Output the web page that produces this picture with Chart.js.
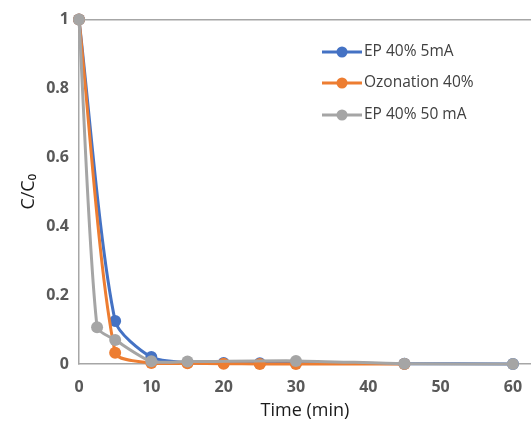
<!DOCTYPE html>
<html>
<head>
<meta charset="utf-8">
<script src="https://cdn.jsdelivr.net/npm/chart.js@4/dist/chart.umd.min.js"></script>
<style>
html,body{margin:0;padding:0;background:#fff;}
#wrap{width:531px;height:425px;}
</style>
</head>
<body>
<div id="wrap"><canvas id="c" width="531" height="425"></canvas></div>
<script>
const seriesNames = ["EP 40% 5mA", "Ozonation 40%", "EP 40% 50 mA"];
const seriesColors = ["#4472C4", "#ED7D31", "#A5A5A5"];

const blueX = [0, 5, 10, 15, 20, 25, 30, 45, 60];
const blueY = [1, 0.125, 0.02, 0.004, 0.003, 0.002, 0.003, 0.001, 0];

const orangeX = [0, 5, 10, 15, 20, 25, 30, 45];
const orangeY = [1, 0.033, 0.003, 0.002, 0.001, 0, 0, 0];

const grayX = [0, 2.5, 5, 10, 15, 30, 45, 60];
const grayY = [1, 0.107, 0.07, 0.008, 0.007, 0.009, 0.001, 0];

const xTicks = [0, 10, 20, 30, 40, 50, 60];
const yTicks = [0, 0.2, 0.4, 0.6, 0.8, 1];

function pts(xs, ys){ return xs.map((x,i)=>({x:x, y:ys[i]})); }

const legendPlugin = {
  id: 'insideLegend',
  afterDraw(chart){
    const ctx = chart.ctx;
    ctx.save();
    const ys = [52, 83, 115];
    seriesNames.forEach((name, i) => {
      const y = ys[i];
      ctx.strokeStyle = seriesColors[i];
      ctx.lineWidth = 3;
      ctx.beginPath();
      ctx.moveTo(322, y);
      ctx.lineTo(362, y);
      ctx.stroke();
      ctx.fillStyle = seriesColors[i];
      ctx.beginPath();
      ctx.arc(342, y, 5.5, 0, Math.PI*2);
      ctx.fill();
      ctx.fillStyle = '#404040';
      ctx.font = '15.5px "Open Sans"';
      ctx.textBaseline = 'middle';
      ctx.textAlign = 'left';
      ctx.fillText(name, 364, y);
    });
    ctx.restore();
  }
};

const datasets = [
  {label: seriesNames[0], data: pts(blueX, blueY), borderColor: seriesColors[0], backgroundColor: seriesColors[0], order: 2},
  {label: seriesNames[1], data: pts(orangeX, orangeY), borderColor: seriesColors[1], backgroundColor: seriesColors[1], order: 1},
  {label: seriesNames[2], data: pts(grayX, grayY), borderColor: seriesColors[2], backgroundColor: seriesColors[2], order: 0}
].map(d => Object.assign(d, {borderWidth: 3, pointRadius: 6, pointBorderWidth: 0, tension: 0.25, fill: false, clip: false}));

new Chart(document.getElementById('c'), {
  type: 'line',
  data: {datasets},
  plugins: [legendPlugin],
  options: {
    responsive: false,
    animation: false,
    devicePixelRatio: 1,
    layout: {autoPadding: false, padding: {top: 19, right: 0, left: 0, bottom: 0}},
    plugins: {legend: {display: false}, tooltip: {enabled: false}},
    scales: {
      x: {
        type: 'linear',
        min: 0, max: 62.5,
        afterBuildTicks(scale){ scale.ticks = xTicks.map(v => ({value: v})); },
        afterFit(scale){ scale.height = 61; },
        grid: {display: false, drawTicks: true, tickLength: 14},
        border: {display: true, color: '#A6A6A6', width: 1.5},
        ticks: {padding: 0, color: '#595959', font: {family: 'Open Sans', size: 16, weight: 'bold'}, maxRotation: 0},
        title: {display: true, text: 'Time (min)', color: '#1a1a1a', font: {family: 'Open Sans', size: 18}, padding: {top: 0, bottom: 3}}
      },
      y: {
        type: 'linear',
        min: 0, max: 1,
        afterBuildTicks(scale){ scale.ticks = yTicks.map(v => ({value: v})); },
        afterFit(scale){ scale.width = 79; },
        grid: {drawTicks: false, color: (c) => (c.tick && c.tick.value === 1) ? '#A6A6A6' : 'rgba(0,0,0,0)', lineWidth: 1.5},
        border: {display: true, color: '#A6A6A6', width: 1.5},
        ticks: {padding: 10, color: '#595959', font: {family: 'Open Sans', size: 16, weight: 'bold'},
                callback: (v) => (v === 0 || v === 1) ? String(v) : v.toFixed(1)},
        title: {display: true, text: 'C/C₀', color: '#1a1a1a', font: {family: 'Open Sans', size: 18}, padding: {top: 18, bottom: 0}}
      }
    }
  }
});
</script>
</body>
</html>
